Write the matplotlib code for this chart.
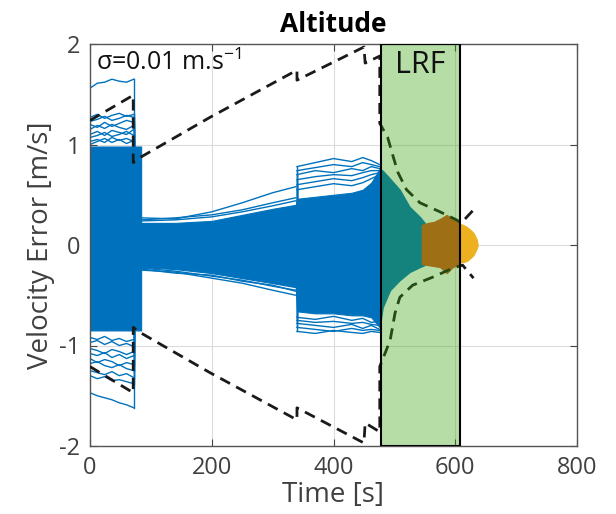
"""
Altitude velocity error - Monte Carlo runs with 3-sigma envelope and LRF window
"""

import matplotlib
matplotlib.use('Agg')
import matplotlib.pyplot as plt

plt.rcParams['font.family'] = ['Open Sans', 'DejaVu Sans']
plt.rcParams['mathtext.fontset'] = 'custom'
plt.rcParams['mathtext.rm'] = 'Open Sans'

# solid core of the blue Monte Carlo runs (edges)
blue_t = [0, 84, 84, 140, 200, 250, 300, 338, 340, 370, 400, 430, 448, 462,
          476, 481, 493, 509, 525, 542, 550]
blue_hi = [0.98, 0.98, 0.22, 0.22, 0.24, 0.30, 0.36, 0.40, 0.46, 0.48, 0.50,
           0.52, 0.55, 0.62, 0.76, 0.74, 0.66, 0.55, 0.38, 0.28, 0.22]
blue_lo = [-0.85, -0.85, -0.22, -0.24, -0.28, -0.33, -0.38, -0.42, -0.66,
           -0.68, -0.68, -0.70, -0.70, -0.72, -0.82, -0.62, -0.45, -0.35,
           -0.27, -0.22, -0.20]

# outlying single runs, per section
early_t = [0, 12, 24, 36, 48, 60, 72]
early_hi = [[1.56, 1.61, 1.62, 1.65, 1.63, 1.62, 1.65],
            [1.27, 1.30, 1.26, 1.29, 1.31, 1.28, 1.30],
            [1.23, 1.25, 1.28, 1.24, 1.26, 1.29, 1.27],
            [1.20, 1.17, 1.22, 1.18, 1.21, 1.24, 1.22],
            [1.15, 1.19, 1.16, 1.20, 1.17, 1.15, 1.19],
            [1.10, 1.13, 1.09, 1.14, 1.12, 1.10, 1.15],
            [1.07, 1.09, 1.12, 1.08, 1.10, 1.13, 1.09],
            [1.03, 1.05, 1.02, 1.07, 1.04, 1.06, 1.03],
            [1.00, 1.03, 1.06, 1.02, 1.05, 1.01, 1.04]]
early_lo = [[-1.47, -1.50, -1.52, -1.54, -1.57, -1.59, -1.62],
            [-1.30, -1.33, -1.31, -1.35, -1.34, -1.36, -1.38],
            [-1.25, -1.27, -1.29, -1.26, -1.30, -1.28, -1.32],
            [-1.18, -1.16, -1.20, -1.22, -1.19, -1.23, -1.25],
            [-1.13, -1.17, -1.14, -1.16, -1.20, -1.17, -1.19],
            [-1.08, -1.10, -1.07, -1.12, -1.09, -1.13, -1.10],
            [-1.03, -1.05, -1.08, -1.04, -1.06, -1.09, -1.06],
            [-0.97, -0.95, -0.99, -0.96, -1.00, -0.98, -1.01],
            [-0.92, -0.94, -0.91, -0.95, -0.93, -0.96, -0.94]]

mid_t = [85, 140, 200, 250, 300, 338]
mid_hi = [[0.27, 0.26, 0.33, 0.42, 0.52, 0.58],
          [0.25, 0.27, 0.30, 0.35, 0.42, 0.47],
          [0.24, 0.25, 0.28, 0.33, 0.39, 0.44]]
mid_lo = [[-0.25, -0.27, -0.33, -0.38, -0.45, -0.50],
          [-0.24, -0.28, -0.30, -0.36, -0.40, -0.46],
          [-0.23, -0.26, -0.31, -0.35, -0.41, -0.45]]

late_t = [340, 370, 400, 430, 448, 462, 476]
late_hi = [[0.78, 0.82, 0.86, 0.83, 0.87, 0.84, 0.80],
           [0.74, 0.77, 0.80, 0.78, 0.82, 0.80, 0.78],
           [0.70, 0.74, 0.72, 0.76, 0.74, 0.78, 0.76],
           [0.65, 0.68, 0.70, 0.69, 0.72, 0.74, 0.74],
           [0.60, 0.63, 0.66, 0.64, 0.67, 0.70, 0.72],
           [0.55, 0.58, 0.61, 0.59, 0.62, 0.66, 0.70]]
late_lo = [[-0.86, -0.88, -0.85, -0.87, -0.88, -0.86, -0.87],
           [-0.82, -0.84, -0.86, -0.83, -0.85, -0.84, -0.85],
           [-0.78, -0.80, -0.82, -0.79, -0.83, -0.80, -0.84],
           [-0.75, -0.77, -0.76, -0.78, -0.77, -0.79, -0.80],
           [-0.72, -0.74, -0.71, -0.75, -0.73, -0.77, -0.76]]

# runs during the LRF phase
orange_t = [545, 555, 565, 575, 586, 596, 607]
orange_hi = [0.20, 0.22, 0.23, 0.26, 0.30, 0.26, 0.22]
orange_lo = [-0.19, -0.20, -0.21, -0.22, -0.28, -0.22, -0.19]

yellow_t = [600, 607, 613, 619, 625, 630, 635, 637]
yellow_hi = [0.22, 0.21, 0.20, 0.18, 0.15, 0.12, 0.06, 0.0]
yellow_lo = [-0.18, -0.17, -0.17, -0.16, -0.13, -0.10, -0.04, 0.0]

# 3-sigma envelope
env_hi_t = [0, 71, 71, 85, 197, 340, 340, 450, 452, 476, 476, 489, 498, 506,
            520, 542, 575, 602, 610, 630]
env_hi = [1.24, 1.49, 0.82, 0.88, 1.27, 1.74, 1.64, 1.97, 1.81, 1.88, 1.21,
          1.07, 0.88, 0.72, 0.55, 0.42, 0.33, 0.25, 0.22, 0.35]
env_lo_t = [0, 71, 71, 85, 197, 340, 340, 450, 452, 476, 476, 493, 501, 509,
            530, 563, 596, 612, 630]
env_lo = [-1.21, -1.47, -0.82, -0.88, -1.27, -1.74, -1.62, -1.97, -1.77,
          -1.86, -1.21, -0.95, -0.68, -0.52, -0.40, -0.32, -0.23, -0.20, -0.33]

lrf = [478, 607]

BLUE = '#0072BD'
ORANGE = '#D95319'
YELLOW = '#EDB120'
TXT = '#404040'

fig = plt.figure(figsize=(6.16, 5.14), dpi=100)
ax = fig.add_axes([90 / 616, 68 / 514, 487 / 616, 402 / 514])

ax.fill_between(blue_t, blue_lo, blue_hi, color=BLUE, lw=0.8, zorder=2)
for t, hi, lo in [(early_t, early_hi, early_lo), (mid_t, mid_hi, mid_lo),
                  (late_t, late_hi, late_lo)]:
    for y in hi + lo:
        ax.plot(t, y, color=BLUE, lw=1, zorder=2)
for y in early_hi:
    ax.plot([72, 72], [y[-1], 0.9], color=BLUE, lw=1, zorder=2)
for y in early_lo:
    ax.plot([72, 72], [y[-1], -0.8], color=BLUE, lw=1, zorder=2)
for y in late_hi + late_lo:
    ax.plot([late_t[0], late_t[0]], [y[0] * 0.55, y[0]], color=BLUE, lw=1, zorder=2)

ax.fill_between(yellow_t, yellow_lo, yellow_hi, color=YELLOW, lw=0.8, zorder=2)
ax.fill_between(orange_t, orange_lo, orange_hi, color=ORANGE, lw=0.8, zorder=2)

ax.plot(env_hi_t, env_hi, '--', color='#1a1a1a', lw=2, dashes=(4, 2.5), zorder=3)
ax.plot(env_lo_t, env_lo, '--', color='#1a1a1a', lw=2, dashes=(4, 2.5), zorder=3)

ax.axvspan(lrf[0], lrf[1], facecolor=(0.22, 0.64, 0.05), alpha=0.36, zorder=4)
ax.axvspan(lrf[0], lrf[1], facecolor='none', edgecolor='black', lw=1.5, zorder=5)
ax.text(sum(lrf) / 2, 1.79, 'LRF', ha='center', va='center', fontsize=22,
        color='#111111', zorder=6)

ax.text(0.013, 0.985, 'σ=0.01 m.s$^{\\mathregular{-1}}$', transform=ax.transAxes,
        ha='left', va='top', fontsize=18, color='#111111', zorder=6)

ax.set_xlim(0, 800)
ax.set_ylim(-2, 2)
ax.set_xticks([0, 200, 400, 600, 800])
ax.set_yticks([-2, -1, 0, 1, 2])
ax.set_yticklabels(['-2', '-1', '0', '1', '2'])
ax.grid(True, color='#dcdcdc', lw=0.8)
ax.set_axisbelow(True)
ax.tick_params(direction='in', length=5, width=0.8, color='#444444',
               labelsize=17, labelcolor=TXT, top=True, right=True, pad=7)
for s in ax.spines.values():
    s.set_color('#555555')
    s.set_linewidth(1)

ax.set_xlabel('Time [s]', fontsize=20, color=TXT, labelpad=1)
ax.set_ylabel('Velocity Error [m/s]', fontsize=20, color=TXT, labelpad=3)
ax.set_title('Altitude', fontsize=19, fontweight='bold', color='black', pad=9)

fig.savefig('out.png', dpi=100)
